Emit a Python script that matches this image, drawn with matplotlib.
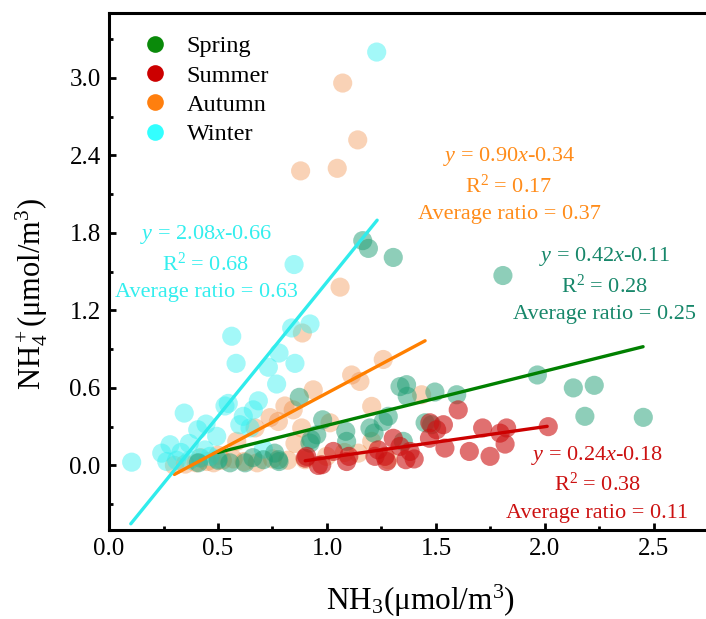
import matplotlib
matplotlib.use('Agg')
import matplotlib.pyplot as plt
from matplotlib.lines import Line2D
from matplotlib.ticker import MultipleLocator, FormatStrFormatter
import numpy as np

plt.rcParams['font.family'] = ['Liberation Serif', 'DejaVu Serif']
plt.rcParams['mathtext.fontset'] = 'custom'
plt.rcParams['mathtext.rm'] = 'Liberation Serif'
plt.rcParams['mathtext.it'] = 'Liberation Serif:italic'

# NH3 / NH4+ by season
spring_x = [1.164, 1.19, 1.304, 1.807, 0.873, 0.927, 0.76, 0.777, 0.708, 0.624, 0.555, 0.41,
            1.335, 1.365, 1.368, 1.495, 1.595, 1.965, 1.281, 1.258, 0.98, 1.086, 1.197, 1.216,
            0.922, 0.953, 1.09, 1.35, 1.45, 1.48, 2.13, 2.226, 2.183, 2.451, 0.78, 0.50, 0.66]
spring_y = [1.74, 1.68, 1.61, 1.47, 0.527, 0.2, 0.095, 0.044, 0.044, 0.02, 0.02, 0.02,
            0.61, 0.625, 0.535, 0.568, 0.547, 0.70, 0.38, 0.34, 0.353, 0.264, 0.29, 0.25,
            0.173, 0.237, 0.186, 0.186, 0.33, 0.315, 0.60, 0.62, 0.38, 0.372, 0.03, 0.04, 0.06]

summer_x = [0.90, 0.96, 1.602, 1.472, 1.534, 1.503, 1.47, 1.541, 1.304, 1.335, 1.381, 1.235,
            1.22, 1.266, 1.362, 1.274, 1.09, 1.029, 0.976, 1.714, 1.794, 1.824, 1.817, 1.653,
            1.748, 2.015, 0.907, 1.10, 1.40]
summer_y = [0.056, 0.0, 0.43, 0.33, 0.315, 0.276, 0.21, 0.134, 0.21, 0.147, 0.108, 0.12,
            0.07, 0.07, 0.044, 0.03, 0.03, 0.108, 0.005, 0.29, 0.25, 0.29, 0.165, 0.108,
            0.07, 0.30, 0.07, 0.07, 0.05]

autumn_x = [1.072, 1.141, 1.047, 0.879, 1.06, 0.887, 0.807, 0.845, 0.739, 0.777, 0.67, 0.937,
            0.884, 0.853, 0.586, 1.258, 1.113, 1.151, 1.434, 1.205, 1.014, 1.205, 1.144, 1.281,
            0.9, 0.998, 0.30, 0.35, 0.40, 0.45, 0.48, 0.52, 0.57, 0.62, 0.68, 0.75, 0.82,
            0.50, 0.42, 1.08]
autumn_y = [2.96, 2.52, 2.30, 2.28, 1.38, 1.025, 0.46, 0.43, 0.37, 0.34, 0.29, 0.585,
            0.29, 0.17, 0.186, 0.82, 0.70, 0.65, 0.547, 0.457, 0.33, 0.186, 0.095, 0.044,
            0.044, 0.07, 0.0, 0.01, 0.02, 0.03, 0.02, 0.04, 0.05, 0.03, 0.02, 0.05, 0.04,
            0.08, 0.06, 0.1]

winter_x = [1.228, 0.849, 0.922, 0.838, 0.563, 0.583, 0.78, 0.853, 0.731, 0.769, 0.547, 0.532,
            0.685, 0.662, 0.345, 0.616, 0.60, 0.445, 0.407, 0.494, 0.647, 0.28, 0.368, 0.242,
            0.104, 0.265, 0.31, 0.417, 0.463, 0.37, 0.50, 0.708, 0.33, 0.44]
winter_y = [3.20, 1.555, 1.095, 1.064, 1.0, 0.79, 0.87, 0.79, 0.76, 0.63, 0.48, 0.46,
            0.50, 0.43, 0.405, 0.38, 0.315, 0.32, 0.276, 0.225, 0.29, 0.16, 0.17, 0.095,
            0.025, 0.03, 0.04, 0.056, 0.07, 0.04, 0.05, 0.126, 0.10, 0.12]

# fitted lines: slope, intercept, x range
fits = {
    'Winter': (2.08, -0.66, 0.10, 1.23),
    'Autumn': (0.90, -0.34, 0.30, 1.45),
    'Spring': (0.42, -0.11, 0.50, 2.45),
    'Summer': (0.24, -0.18, 0.90, 2.01),
}
r2 = {'Spring': 0.28, 'Summer': 0.38, 'Autumn': 0.17, 'Winter': 0.68}
avg_ratio = {'Spring': 0.25, 'Summer': 0.11, 'Autumn': 0.37, 'Winter': 0.63}

pt_col = {'Spring': '#1f9e74', 'Summer': '#cc1111', 'Autumn': '#f08030', 'Winter': '#33f0f0'}
pt_alpha = {'Spring': 0.5, 'Summer': 0.6, 'Autumn': 0.35, 'Winter': 0.45}
line_col = {'Spring': '#008000', 'Summer': '#cc0000', 'Autumn': '#ff7f00', 'Winter': '#30ecec'}
txt_col = {'Spring': '#17876a', 'Summer': '#cc1111', 'Autumn': '#ff8c1a', 'Winter': '#33eeee'}
leg_col = {'Spring': '#0a8a0a', 'Summer': '#cc0000', 'Autumn': '#ff7f0e', 'Winter': '#33ffff'}
txt_pos = {'Winter': (0.445, 1.785), 'Autumn': (1.835, 2.39),
           'Spring': (2.275, 1.615), 'Summer': (2.24, 0.08)}

fig = plt.figure(figsize=(7.06, 6.19), dpi=100)
ax = fig.add_axes([0.1544, 0.1438, 0.9263, 0.8347])

data = {'Autumn': (autumn_x, autumn_y), 'Winter': (winter_x, winter_y),
        'Spring': (spring_x, spring_y), 'Summer': (summer_x, summer_y)}
for s in ['Autumn', 'Winter', 'Spring', 'Summer']:
    ax.scatter(data[s][0], data[s][1], s=190, color=pt_col[s], alpha=pt_alpha[s],
               edgecolors='none', zorder=2)

for s in ['Summer', 'Spring', 'Autumn', 'Winter']:
    k, b, x0, x1 = fits[s]
    xx = np.array([x0, x1])
    ax.plot(xx, k * xx + b, color=line_col[s], lw=2.4, zorder=3, solid_capstyle='round')

dy = 0.225
for s in ['Winter', 'Autumn', 'Spring', 'Summer']:
    k, b = fits[s][0], fits[s][1]
    tx, ty = txt_pos[s]
    ax.text(tx, ty, r'$\it{y}$ = %.2f$\it{x}$-%.2f' % (k, -b), color=txt_col[s],
            fontsize=16, ha='center', va='center', zorder=4)
    ax.text(tx, ty - dy, r'R$^2$ = %.2f' % r2[s], color=txt_col[s],
            fontsize=16, ha='center', va='center', zorder=4)
    ax.text(tx, ty - 2 * dy, 'Average ratio = %.2f' % avg_ratio[s], color=txt_col[s],
            fontsize=16, ha='center', va='center', zorder=4)

ax.set_xlim(0, 3.0)
ax.set_ylim(-0.5, 3.5)
ax.set_xticks([0, 0.5, 1.0, 1.5, 2.0, 2.5])
ax.set_yticks([0, 0.6, 1.2, 1.8, 2.4, 3.0])
ax.xaxis.set_minor_locator(MultipleLocator(0.25))
ax.yaxis.set_minor_locator(MultipleLocator(0.3))
ax.xaxis.set_major_formatter(FormatStrFormatter('%.1f'))
ax.yaxis.set_major_formatter(FormatStrFormatter('%.1f'))
ax.tick_params(which='both', direction='in', width=2, labelsize=18, pad=6)
ax.tick_params(which='major', length=5)
ax.tick_params(which='minor', length=3)
for sp in ax.spines.values():
    sp.set_linewidth(2.2)

ax.set_xlabel(r'NH$_3$(μmol/m$^3$)', fontsize=22.5)
ax.set_ylabel(r'NH$_4^+$(μmol/m$^3$)', fontsize=22)
ax.xaxis.set_label_coords(0.476, -0.103)
ax.yaxis.set_label_coords(-0.09, 0.457)

handles = [Line2D([], [], marker='o', ls='none', markersize=12, color=leg_col[s],
                  markeredgecolor='none') for s in ['Spring', 'Summer', 'Autumn', 'Winter']]
ax.legend(handles, ['Spring', 'Summer', 'Autumn', 'Winter'], loc='upper left',
          frameon=False, fontsize=17.5, labelspacing=0.3, handletextpad=0.3,
          borderaxespad=0.5, bbox_to_anchor=(0.0, 1.0))

fig.savefig('out.png', dpi=100)
